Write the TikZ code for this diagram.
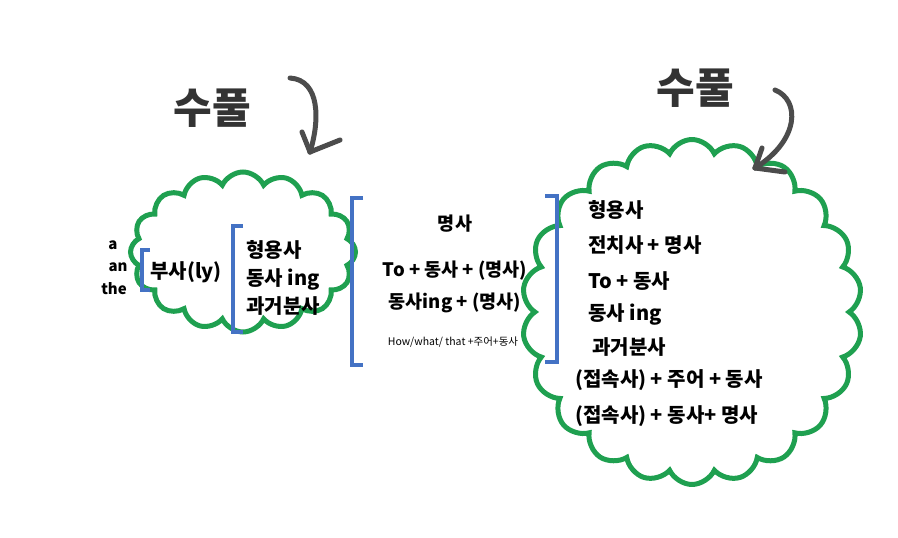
\documentclass[tikz,border=0pt]{standalone}
\usepackage{fontspec}
\setmainfont{Noto Sans CJK KR}
\usetikzlibrary{shapes.symbols,arrows.meta}
\definecolor{cg}{HTML}{1FA050}
\definecolor{bb}{HTML}{4472C4}
\begin{document}
\begin{tikzpicture}[x=1pt,y=-1pt,
  cl/.style={cloud,draw=cg,line width=5pt,cloud puffs=#1,cloud puff arc=130,aspect=1},
  br/.style={draw=bb,line width=3.5pt},
  t/.style={font=\bfseries\fontsize{20}{22}\selectfont,inner sep=0pt},
  tm/.style={font=\bfseries\fontsize{18.5}{20}\selectfont,inner sep=0pt},
  hand/.style={font=\bfseries\fontsize{42}{42}\selectfont,text=black!80,inner sep=0pt},
  ar/.style={draw=black!70,line width=5pt,line cap=round}]
\useasboundingbox (0,0) rectangle (898,538);
\node[cl=16,minimum width=225,minimum height=160] (c1) at (243,252) {};
\node[cl=22,minimum width=340,minimum height=345] (c2) at (692,312) {};
\node[hand] (h1) at (212,108) {수풀};
\node[hand] (h2) at (695,88) {수풀};
\coordinate (a1s) at (290,78); \coordinate (a1e) at (310,152);
\draw[ar] (a1s) .. controls (320,80) and (320,120) .. (a1e);
\draw[ar] (a1e) -- (302,132); \draw[ar] (a1e) -- (340,140);
\coordinate (a2s) at (775,90); \coordinate (a2e) at (755,168);
\draw[ar] (a2s) .. controls (800,100) and (800,140) .. (a2e);
\draw[ar] (a2e) -- (762,148); \draw[ar] (a2e) -- (785,172);
\node[font=\bfseries\fontsize{15}{16}\selectfont] (na) at (113,245) {a};
\node[font=\bfseries\fontsize{15}{16}\selectfont] (nan) at (118,267) {an};
\node[font=\bfseries\fontsize{15}{16}\selectfont] (nthe) at (114,289) {the};
\draw[br] (150,250) -- (142,250) -- (142,290) -- (150,290);
\node[t] (b) at (186,272) {부사(ly)};
\draw[br] (243,226) -- (233,226) -- (233,332) -- (243,332);
\node[t,align=left,anchor=west] (adj) at (246,278) {형용사\\[6pt]동사 ing\\[6pt]과거분사};
\draw[br] (363,198) -- (352,198) -- (352,365) -- (363,365);
\draw[br] (545,196) -- (557,196) -- (557,362) -- (545,362);
\node[tm] (n1) at (455,224) {명사};
\node[tm] (n2) at (455,271) {To + 동사 + (명사)};
\node[tm] (n3) at (455,303) {동사ing + (명사)};
\node[font=\fontsize{10.5}{12}\selectfont] (n4) at (453,342) {How/what/ that +주어+동사};
\node[t,anchor=west] (r1) at (588,210) {형용사};
\node[t,anchor=west] (r2) at (588,245) {전치사 + 명사};
\node[t,anchor=west] (r3) at (588,281) {To + 동사};
\node[t,anchor=west] (r4) at (588,314) {동사 ing};
\node[t,anchor=west] (r5) at (592,347) {과거분사};
\node[t,anchor=west] (r6) at (575,380) {(접속사) + 주어 + 동사};
\node[t,anchor=west] (r7) at (575,416) {(접속사) + 동사+ 명사};
\end{tikzpicture}
\end{document}
